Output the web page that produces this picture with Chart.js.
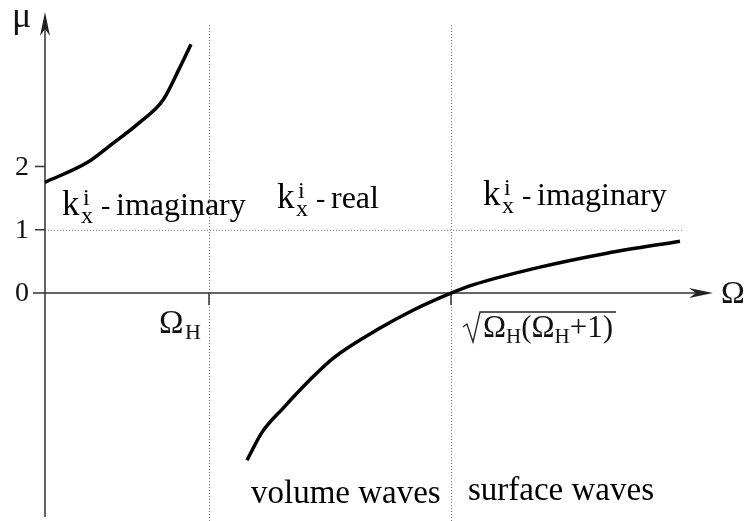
<!DOCTYPE html>
<html>
<head>
<meta charset="utf-8">
<script src="https://cdn.jsdelivr.net/npm/chart.js@4.4.0/dist/chart.umd.min.js"></script>
<style>
  body { margin: 0; background: #fff; }
  #wrap { width: 750px; height: 521px; }
</style>
</head>
<body>
<div id="wrap"><canvas id="graf" width="750" height="521"></canvas></div>
<script>
// dispersion branches mu(Omega)
const leftOmega = [0, 0.43, 0.65, 0.95, 1.18, 1.35, 1.46];
const leftMu = [1.75, 2.07, 2.33, 2.7, 3.05, 3.57, 3.93];

const rightOmega = [2.02, 2.17, 2.38, 2.65, 2.88, 3.32, 3.68, 4.06, 4.28, 4.95, 5.62, 6.35];
const rightMu = [-2.64, -2.2, -1.82, -1.37, -1.03, -0.58, -0.27, 0, 0.13, 0.41, 0.63, 0.82];

// axis ticks and marked frequencies
const muTicks = [0, 1, 2];
const muTickLabels = ['0', '1', '2'];
const omegaH = 1.64;
const omegaCross = 4.06;
const dottedMu = 1;
const dottedEnd = 6.37;

const serif = '"Liberation Serif", "Times New Roman", serif';

function toPoints(xs, ys) {
    return xs.map((x, i) => ({ x: x, y: ys[i] }));
}

function arrowHead(ctx, tx, ty, dir) {
    // dir: 'right' or 'up'
    ctx.beginPath();
    if (dir === 'right') {
        ctx.moveTo(tx, ty);
        ctx.lineTo(tx - 24, ty - 5);
        ctx.lineTo(tx - 17, ty);
        ctx.lineTo(tx - 24, ty + 5);
    } else {
        ctx.moveTo(tx, ty);
        ctx.lineTo(tx - 5, ty + 24);
        ctx.lineTo(tx, ty + 17);
        ctx.lineTo(tx + 5, ty + 24);
    }
    ctx.closePath();
    ctx.fill();
}

// "k" with sub x and sup i, then "- word"
function drawK(ctx, x, base, word) {
    ctx.textAlign = 'left';
    ctx.textBaseline = 'alphabetic';
    ctx.font = '35px ' + serif;
    ctx.fillText('k', x, base);
    ctx.font = '24px ' + serif;
    ctx.fillText('i', x + 21, base - 10);
    ctx.fillText('x', x + 19, base + 8);
    ctx.font = '28px ' + serif;
    ctx.fillText('-', x + 39, base - 1);
    ctx.font = '32px ' + serif;
    ctx.fillText(word, x + 54, base);
}

const axesPlugin = {
    id: 'axesPlugin',
    beforeDatasetsDraw(chart) {
        const ctx = chart.ctx;
        const xs = chart.scales.x, ys = chart.scales.y;
        const x0 = xs.getPixelForValue(0);
        const y0 = ys.getPixelForValue(0);
        ctx.save();

        // dotted guide lines
        ctx.strokeStyle = '#777';
        ctx.lineWidth = 1;
        ctx.setLineDash([1, 2]);
        const y1 = ys.getPixelForValue(dottedMu);
        ctx.beginPath();
        ctx.moveTo(x0, y1 + 0.5);
        ctx.lineTo(xs.getPixelForValue(dottedEnd), y1 + 0.5);
        [omegaH, omegaCross].forEach(v => {
            const px = Math.round(xs.getPixelForValue(v)) + 0.5;
            ctx.moveTo(px, 25);
            ctx.lineTo(px, 521);
        });
        ctx.stroke();
        ctx.setLineDash([]);

        // axes
        ctx.strokeStyle = '#333';
        ctx.fillStyle = '#222';
        ctx.lineWidth = 1.5;
        ctx.beginPath();
        ctx.moveTo(x0, 517);
        ctx.lineTo(x0, 18);
        ctx.moveTo(33, y0);
        ctx.lineTo(708, y0);
        // ticks on mu axis
        muTicks.forEach(t => {
            const py = ys.getPixelForValue(t);
            ctx.moveTo(35, py);
            ctx.lineTo(x0, py);
        });
        // ticks on Omega axis
        [omegaH, omegaCross].forEach(v => {
            const px = xs.getPixelForValue(v);
            ctx.moveTo(px, y0);
            ctx.lineTo(px, y0 + 12);
        });
        ctx.stroke();
        arrowHead(ctx, 713, y0, 'right');
        arrowHead(ctx, x0, 12, 'up');

        // tick labels
        ctx.fillStyle = '#111';
        ctx.font = '28px ' + serif;
        ctx.textAlign = 'right';
        ctx.textBaseline = 'middle';
        muTicks.forEach((t, i) => {
            ctx.fillText(muTickLabels[i], 29, ys.getPixelForValue(t) + 1);
        });

        // axis names
        ctx.textAlign = 'left';
        ctx.textBaseline = 'alphabetic';
        ctx.font = '36px ' + serif;
        ctx.fillText('\u03bc', 12, 27);
        ctx.font = '32px ' + serif;
        ctx.textBaseline = 'middle';
        ctx.fillText('\u03a9', 721, y0 + 1);

        // Omega_H under axis
        ctx.textBaseline = 'alphabetic';
        ctx.font = '33px ' + serif;
        ctx.fillText('\u03a9', 159, 333);
        ctx.font = '22px ' + serif;
        ctx.fillText('H', 185, 339);

        // sqrt(Omega_H(Omega_H+1))
        let cx = 483;
        const base = 337;
        const parts = [
            ['\u03a9', 31, 0], ['H', 21, 6], ['(', 31, 0],
            ['\u03a9', 31, 0], ['H', 21, 6], ['+1)', 31, 0]
        ];
        parts.forEach(p => {
            ctx.font = p[1] + 'px ' + serif;
            ctx.fillText(p[0], cx, base + p[2]);
            cx += ctx.measureText(p[0]).width;
        });
        ctx.strokeStyle = '#222';
        ctx.lineWidth = 1.3;
        ctx.beginPath();
        ctx.moveTo(463, 327);
        ctx.lineTo(467, 324);
        ctx.lineTo(473, 342);
        ctx.lineTo(480, 312);
        ctx.lineTo(cx + 3, 312);
        ctx.stroke();

        // region labels
        ctx.fillStyle = '#000';
        drawK(ctx, 62, 215, 'imaginary');
        drawK(ctx, 277, 208, 'real');
        drawK(ctx, 483, 205, 'imaginary');

        ctx.font = '33px ' + serif;
        ctx.fillText('volume waves', 251, 503);
        ctx.fillText('surface waves', 468, 500);

        ctx.restore();
    }
};

const lineStyle = {
    showLine: true,
    borderColor: '#000',
    borderWidth: 3.5,
    pointRadius: 0,
    cubicInterpolationMode: 'monotone',
    fill: false
};

new Chart(document.getElementById('graf'), {
    type: 'scatter',
    data: {
        datasets: [
            Object.assign({ label: 'left branch', data: toPoints(leftOmega, leftMu) }, lineStyle),
            Object.assign({ label: 'right branch', data: toPoints(rightOmega, rightMu) }, lineStyle)
        ]
    },
    options: {
        responsive: false,
        animation: false,
        layout: { padding: 0 },
        scales: {
            x: { type: 'linear', display: false, min: -0.45, max: 7.05 },
            y: { type: 'linear', display: false, min: -3.6, max: 4.63 }
        },
        plugins: {
            legend: { display: false },
            tooltip: { enabled: false }
        }
    },
    plugins: [axesPlugin]
});
</script>
</body>
</html>
